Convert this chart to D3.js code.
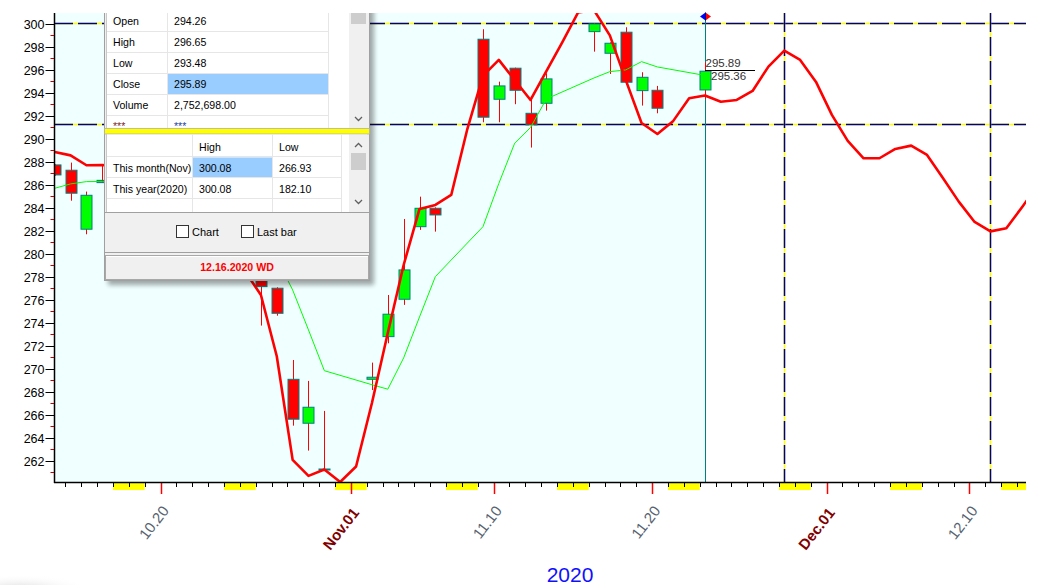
<!DOCTYPE html>
<html><head><meta charset="utf-8">
<script src="https://cdn.jsdelivr.net/npm/d3@7"></script>
<style>html,body{margin:0;padding:0;background:#fff;overflow:hidden}</style>
</head><body><svg id="c" width="1041" height="585"></svg>
<script>
// ---------------- DATA ----------------
const candleDates = ["2020-10-13","2020-10-14","2020-10-15","2020-10-16","2020-10-19","2020-10-20","2020-10-21","2020-10-22","2020-10-23","2020-10-26","2020-10-27","2020-10-28","2020-10-29","2020-10-30","2020-11-02","2020-11-03","2020-11-04","2020-11-05","2020-11-06","2020-11-09","2020-11-10","2020-11-11","2020-11-12","2020-11-13","2020-11-16","2020-11-17","2020-11-18","2020-11-19","2020-11-20","2020-11-23"];
const openVals  = [287.74,287.28,282.15,286.40,285.0,282.0,282.5,282.6,283.6,281.3,277.02,269.10,265.28,261.30,269.10,272.81,276.06,282.37,283.97,298.67,293.45,296.15,292.23,293.10,299.33,297.45,299.28,294.20,294.23,294.26];
const highVals  = [287.80,287.94,285.42,287.74,285.6,284.3,284.4,283.8,284.3,281.9,277.10,270.78,268.96,266.35,270.55,276.43,283.04,284.98,284.05,299.54,294.98,296.20,293.39,295.71,300.08,298.40,299.71,295.80,294.61,296.65];
const lowVals   = [286.80,284.63,281.71,286.18,281.2,281.5,282.0,280.9,282.2,273.77,274.63,265.07,262.90,261.22,268.17,272.23,275.57,282.09,281.94,291.45,291.45,293.02,289.25,292.46,297.59,295.65,294.70,292.90,292.23,293.48];
const closeVals = [286.87,285.28,285.10,286.20,281.6,282.9,282.7,283.6,283.3,277.16,274.84,265.63,266.67,261.25,269.28,274.76,278.61,283.97,283.39,291.89,294.61,294.23,291.22,295.22,300.00,298.32,294.93,295.36,292.67,295.89];
const maVals    = [285.71,286.09,286.29,286.30,286.0,285.5,284.8,283.8,282.6,281.6,279.6,276.87,273.39,269.85,268.63,268.24,270.96,274.52,278.03,282.37,286.13,289.63,291.0,293.48,295.30,295.85,296.0,296.72,296.26,295.52];

const projStart = "2020-10-13";
const projVals = [288.87,288.57,287.71,287.74,287.6,287.5,287.2,286.5,285.3,283.6,281.8,280.1,278.5,276.43,271.1,262.09,260.70,261.26,260.17,261.52,267.04,273.13,279.04,283.91,284.26,285.13,290.78,295.48,296.87,295.13,293.39,295.9,298.4,301.0,301.2,299.0,295.13,291.39,290.43,291.57,293.54,293.78,293.24,293.39,294.17,296.29,297.68,296.87,294.96,292.09,289.83,288.32,288.32,289.13,289.42,288.61,286.61,284.55,282.78,281.96,282.23,284.09,286.0];

const levelLines = [300.08, 291.28];
const markerDates = ["2020-11-28","2020-12-11"];
const xLabelDates = ["2020-10-20","2020-11-01","2020-11-10","2020-11-20","2020-12-01","2020-12-10"];
const xLabelTexts = ["10.20","Nov.01","11.10","11.20","Dec.01","12.10"];
const xLabelMonth = [false,true,false,false,true,false];
const yTickMin = 261, yTickMax = 300;
const yearLabel = "2020";
const lastCloseText = "295.89", lastMaText = "295.36";

const infoLabels = ["Open","High","Low","Close","Volume","***"];
const infoValues = ["294.26","296.65","293.48","295.89","2,752,698.00","***"];
const rangeHeader = ["High","Low"];
const rangeRows = ["This month(Nov)","This year(2020)"];
const rangeHigh = ["300.08","300.08"];
const rangeLow = ["266.93","182.10"];
const checkLabels = ["Chart","Last bar"];
const dateText = "12.16.2020 WD";

// ---------------- SETUP ----------------
const svg = d3.select("#c");
const FONT = "'Liberation Sans', Arial, sans-serif";
const parse = d3.utcParse("%Y-%m-%d");
const L = 54, R = 1026, T = 13, B = 482;
const x = d3.scaleUtc().domain([parse("2020-10-13"), parse("2020-12-14")]).range([49.5, 49.5 + 62*15.86]);
const dayW = x(parse("2020-10-14")) - x(parse("2020-10-13"));
const cOff = dayW * 0.33;
const cx = d => x(typeof d === "string" ? parse(d) : d) + cOff;
const y = d3.scaleLinear().domain([260.17, 300.95]).range([B, T]);

const defs = svg.append("defs");
defs.append("clipPath").attr("id","plot").append("rect").attr("x",L).attr("y",T).attr("width",R-L).attr("height",B-T);
defs.append("clipPath").attr("id","panelclip").append("rect").attr("x",0).attr("y",T).attr("width",1041).attr("height",585);
const f = defs.append("filter").attr("id","blur").attr("x","-20%").attr("y","-20%").attr("width","140%").attr("height","140%");
f.append("feGaussianBlur").attr("stdDeviation",2.5);
const rg = defs.append("radialGradient").attr("id","corner");
rg.append("stop").attr("offset","0%").attr("stop-color","#d8d8d8");
rg.append("stop").attr("offset","100%").attr("stop-color","#ffffff").attr("stop-opacity",0);

svg.append("rect").attr("width",1041).attr("height",585).attr("fill","#fff");
svg.append("ellipse").attr("cx",20).attr("cy",590).attr("rx",70).attr("ry",16).attr("fill","url(#corner)");

const lastX = cx(candleDates[candleDates.length-1]);
svg.append("rect").attr("x",L).attr("y",T).attr("width",lastX-L).attr("height",B-T).attr("fill","#F0FFFF");

const plot = svg.append("g").attr("clip-path","url(#plot)");

// level lines (navy dashes with yellow gaps)
levelLines.forEach(v => {
  plot.append("line").attr("x1",L).attr("x2",R).attr("y1",Math.round(y(v))+0.5).attr("y2",Math.round(y(v))+0.5).attr("stroke","#FFFF00").attr("stroke-width",1.5);
  plot.append("line").attr("x1",L).attr("x2",R).attr("y1",Math.round(y(v))+0.5).attr("y2",Math.round(y(v))+0.5).attr("stroke","#000080").attr("stroke-width",1.5).attr("stroke-dasharray","19,5");
});
markerDates.forEach(d => {
  const xx = Math.round(cx(d))+0.5;
  plot.append("line").attr("x1",xx).attr("x2",xx).attr("y1",T).attr("y2",B).attr("stroke","#FFFF00").attr("stroke-width",1.5);
  plot.append("line").attr("x1",xx).attr("x2",xx).attr("y1",T).attr("y2",B).attr("stroke","#000080").attr("stroke-width",1.5).attr("stroke-dasharray","19,5");
});

// current bar line
plot.append("line").attr("x1",Math.round(lastX)+0.5).attr("x2",Math.round(lastX)+0.5).attr("y1",18).attr("y2",B).attr("stroke","#008080").attr("stroke-width",1);

// candles
const candles = candleDates.map((d,i)=>({d, o:openVals[i], h:highVals[i], l:lowVals[i], c:closeVals[i]}));
const cg = plot.append("g");
candles.forEach(k => {
  const xx = Math.round(cx(k.d));
  cg.append("line").attr("x1",xx+0.5).attr("x2",xx+0.5).attr("y1",y(k.h)).attr("y2",y(k.l)).attr("stroke","#FF0000").attr("stroke-width",1);
  const top = y(Math.max(k.o,k.c)), bot = y(Math.min(k.o,k.c));
  cg.append("rect").attr("x",xx-5).attr("y",top).attr("width",11).attr("height",Math.max(1,bot-top))
    .attr("fill", k.c >= k.o ? "#00FF00" : "#FF0000").attr("stroke","#008080").attr("stroke-width",1);
});

// MA line
plot.append("path").datum(candles.map((k,i)=>({d:k.d, v:maVals[i]})))
  .attr("d", d3.line().x(p=>cx(p.d)).y(p=>y(p.v)))
  .attr("fill","none").attr("stroke","#00FF00").attr("stroke-width",1);

// projection line
const p0 = parse(projStart);
const proj = projVals.map((v,i)=>({d:d3.utcDay.offset(p0,i), v}));
plot.append("path").datum(proj)
  .attr("d", d3.line().x(p=>cx(p.d)).y(p=>y(p.v)))
  .attr("fill","none").attr("stroke","#FF0000").attr("stroke-width",2.6).attr("stroke-linejoin","round");

// diamond marker
const dm = svg.append("g").attr("transform",`translate(${Math.round(lastX)+0.5},16.5)`);
dm.append("path").attr("d","M0,-4 L-5.5,0 L0,4 Z").attr("fill","#0000FF");
dm.append("path").attr("d","M0,-4 L5.5,0 L0,4 Z").attr("fill","#FF0000");
dm.append("line").attr("x1",0).attr("x2",0).attr("y1",-4).attr("y2",4).attr("stroke","#000080").attr("stroke-width",1);

// last value labels
svg.append("text").attr("x",lastX+0.5).attr("y",66.5).text(lastCloseText).attr("font-family",FONT).attr("font-size",11.5).attr("fill","#333");
svg.append("line").attr("x1",lastX).attr("x2",755).attr("y1",70.5).attr("y2",70.5).attr("stroke","#000").attr("stroke-width",1);
svg.append("text").attr("x",lastX+6).attr("y",80).text(lastMaText).attr("font-family",FONT).attr("font-size",11.5).attr("fill","#333");

// ---------------- AXES ----------------
const allDays = d3.utcDay.range(parse("2020-10-10"), parse("2020-12-16"));
allDays.filter(d=>d.getUTCDay()===6).forEach(d=>{
  const x1 = Math.max(L, x(d)), x2 = Math.min(R, x(d3.utcDay.offset(d,2)));
  if (x2 > x1) svg.append("rect").attr("x",x1).attr("y",483).attr("width",x2-x1).attr("height",7).attr("fill","#FFFF00");
});
allDays.forEach(d=>{
  const xx = x(d);
  if (xx > L+2 && xx < R) svg.append("line").attr("x1",Math.round(xx)+0.5).attr("x2",Math.round(xx)+0.5).attr("y1",482).attr("y2",487).attr("stroke","#000").attr("stroke-width",1);
});
xLabelDates.forEach((d,i)=>{
  const xx = x(parse(d));
  svg.append("line").attr("x1",Math.round(xx)+0.5).attr("x2",Math.round(xx)+0.5).attr("y1",482).attr("y2",494).attr("stroke","#FF0000").attr("stroke-width",1.5);
  svg.append("text").attr("transform",`translate(${xx+9},${xLabelMonth[i]?513:511}) rotate(-52)`)
    .attr("text-anchor","end").attr("font-family",FONT).attr("font-size",15)
    .attr("font-weight", xLabelMonth[i] ? "bold" : "normal")
    .attr("fill", xLabelMonth[i] ? "#800000" : "#566270").text(xLabelTexts[i]);
});
svg.append("line").attr("x1",L).attr("x2",R).attr("y1",482.5).attr("y2",482.5).attr("stroke","#000").attr("stroke-width",1.5);
svg.append("line").attr("x1",54.5).attr("x2",54.5).attr("y1",T).attr("y2",483).attr("stroke","#000").attr("stroke-width",1.5);

d3.range(yTickMin, yTickMax+1).forEach(v=>{
  const yy = Math.round(y(v))+0.5;
  if (v % 2 === 0) {
    svg.append("line").attr("x1",45.5).attr("x2",54).attr("y1",yy).attr("y2",yy).attr("stroke","#000").attr("stroke-width",1);
    svg.append("text").attr("x",44.5).attr("y",yy+4.5).attr("text-anchor","end").attr("font-family",FONT).attr("font-size",12.5).attr("fill","#000").text(v);
  } else {
    svg.append("line").attr("x1",50.5).attr("x2",54).attr("y1",yy).attr("y2",yy).attr("stroke","#C00000").attr("stroke-width",1);
  }
});

svg.append("text").attr("x",570).attr("y",582).attr("text-anchor","middle").attr("font-family",FONT).attr("font-size",21).attr("fill","#1010FF").text(yearLabel);

// ---------------- PANEL ----------------
const pn = svg.append("g").attr("clip-path","url(#panelclip)").attr("font-family",FONT).attr("font-size",10.6);
pn.append("rect").attr("x",108).attr("y",8).attr("width",266).attr("height",277).attr("fill","#000").attr("opacity",0.35).attr("filter","url(#blur)");
pn.append("rect").attr("x",104.5).attr("y",5).attr("width",265).attr("height",275.5).attr("fill","#F0F0F0").attr("stroke","#A0A0A0");
pn.append("rect").attr("x",106).attr("y",5).attr("width",243).attr("height",123).attr("fill","#fff");
pn.append("rect").attr("x",168).attr("y",74).attr("width",160).attr("height",20).attr("fill","#99CCFF");
[31.5,52.5,73.5,94.5,115.5].forEach(yy=>pn.append("line").attr("x1",106).attr("x2",328).attr("y1",yy).attr("y2",yy).attr("stroke","#E6E6E6"));
[167.5,328.5].forEach(xx=>pn.append("line").attr("x1",xx).attr("x2",xx).attr("y1",5).attr("y2",128).attr("stroke","#E6E6E6"));
pn.append("line").attr("x1",106.5).attr("x2",106.5).attr("y1",5).attr("y2",128).attr("stroke","#C8C8C8");
infoLabels.forEach((t,i)=>{
  pn.append("text").attr("x",113).attr("y",25+21*i).attr("fill", i===5?"#7A1F1F":"#000").text(t);
  pn.append("text").attr("x",174).attr("y",25+21*i).attr("fill", i===5?"#1F3F9F":"#000").text(infoValues[i]);
});
pn.append("rect").attr("x",349).attr("y",5).attr("width",18).attr("height",123).attr("fill","#F0F0F0");
pn.append("rect").attr("x",351).attr("y",5).attr("width",15).attr("height",19).attr("fill","#CDCDCD");
const chev = (xx,yy,up)=> pn.append("path").attr("d", up?`M${xx-3.5},${yy+2} L${xx},${yy-1.5} L${xx+3.5},${yy+2}`:`M${xx-3.5},${yy-2} L${xx},${yy+1.5} L${xx+3.5},${yy-2}`).attr("fill","none").attr("stroke","#606060").attr("stroke-width",1.3);
chev(358.5,119,false);
pn.append("rect").attr("x",104.5).attr("y",128.5).attr("width",265).attr("height",5.5).attr("fill","#FFFF00").attr("stroke","#B0B0B0").attr("stroke-width",0.8);
pn.append("rect").attr("x",106).attr("y",134.5).attr("width",243).attr("height",77.5).attr("fill","#fff");
pn.append("rect").attr("x",193).attr("y",157.5).attr("width",79).attr("height",20).attr("fill","#99CCFF");
[156.5,177.5,198.5].forEach(yy=>pn.append("line").attr("x1",106).attr("x2",342).attr("y1",yy).attr("y2",yy).attr("stroke","#E6E6E6"));
[192.5,272.5,341.5].forEach(xx=>pn.append("line").attr("x1",xx).attr("x2",xx).attr("y1",134.5).attr("y2",212).attr("stroke","#E6E6E6"));
pn.append("line").attr("x1",106.5).attr("x2",106.5).attr("y1",134).attr("y2",212).attr("stroke","#C8C8C8");
rangeHeader.forEach((t,i)=>pn.append("text").attr("x",[199,279][i]).attr("y",150.5).text(t));
rangeRows.forEach((t,i)=>{
  pn.append("text").attr("x",113).attr("y",171.5+21*i).text(t);
  pn.append("text").attr("x",199).attr("y",171.5+21*i).text(rangeHigh[i]);
  pn.append("text").attr("x",279).attr("y",171.5+21*i).text(rangeLow[i]);
});
pn.append("rect").attr("x",349).attr("y",134.5).attr("width",18).attr("height",77.5).attr("fill","#F0F0F0");
pn.append("rect").attr("x",351).attr("y",153).attr("width",15).attr("height",17).attr("fill","#CDCDCD");
chev(358.5,145,true); chev(358.5,202,false);
pn.append("line").attr("x1",105).attr("x2",369).attr("y1",212.5).attr("y2",212.5).attr("stroke","#A0A0A0");
pn.append("line").attr("x1",105).attr("x2",369).attr("y1",252.5).attr("y2",252.5).attr("stroke","#A0A0A0");
[[176.5,192],[241.5,257]].forEach((p,i)=>{
  pn.append("rect").attr("x",p[0]).attr("y",225.5).attr("width",12).attr("height",12).attr("fill","#fff").attr("stroke","#333");
  pn.append("text").attr("x",p[1]).attr("y",236).attr("font-size",11).text(checkLabels[i]);
});
pn.append("rect").attr("x",105.5).attr("y",255.5).attr("width",263).attr("height",24).attr("fill","#F0F0F0").attr("stroke","#A8A8A8");
pn.append("line").attr("x1",106).attr("x2",368).attr("y1",256.5).attr("y2",256.5).attr("stroke","#fff");
pn.append("text").attr("x",237).attr("y",270.5).attr("text-anchor","middle").attr("font-weight","bold").attr("fill","#FF0000").text(dateText);
</script></body></html>
